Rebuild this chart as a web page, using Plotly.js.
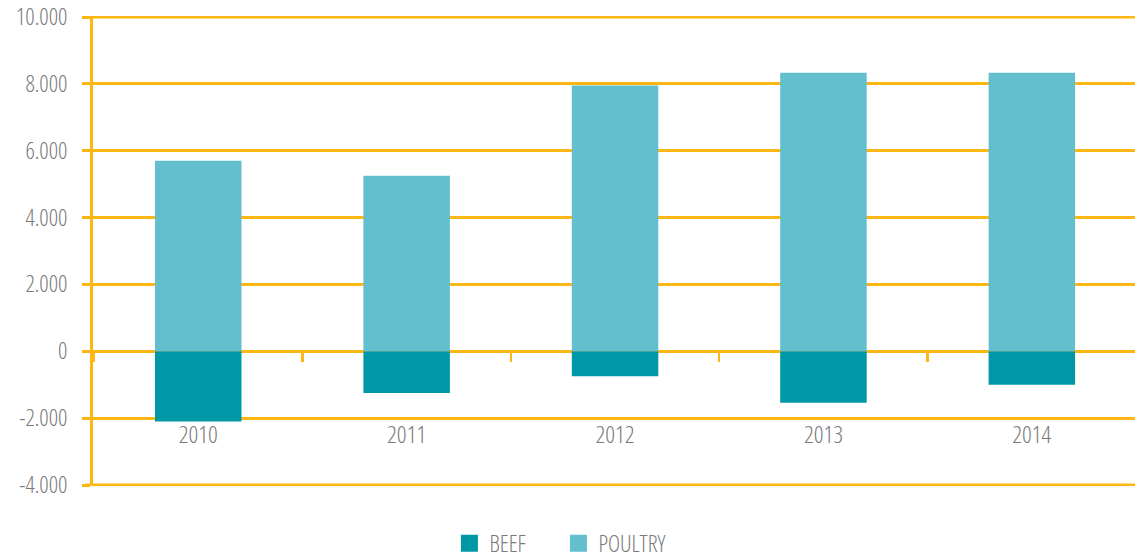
<!DOCTYPE html>
<html>
<head>
<meta charset="utf-8">
<script src="https://cdn.plot.ly/plotly-3.0.1.min.js"></script>
<style>
html,body{margin:0;padding:0;background:#fff;}
#chart{width:1135px;height:560px;}
#chart svg text{font-stretch:semi-condensed !important;}
#chart svg text.legendtext{font-stretch:condensed !important;}
</style>
</head>
<body>
<div id="chart"></div>
<script>
var years = ['2010', '2011', '2012', '2013', '2014'];
var beef = [-2100, -1250, -750, -1540, -1000];
var poultry = [5700, 5250, 7950, 8330, 8330];
var yTickVals = [-4000, -2000, 0, 2000, 4000, 6000, 8000, 10000];
var yTickText = ['-4.000', '-2.000', '0', '2.000', '4.000', '6.000', '8.000', '10.000'];

var beefColor = '#0097A7';
var poultryColor = '#63BECD';
var gridColor = '#FDB714';
var textColor = '#7a7a7a';
var fontFam = '"Open Sans", "Roboto", sans-serif';
function f(sz) { return {family: fontFam, color: textColor, size: sz, weight: 300}; }

var traces = [
  {type: 'bar', name: 'BEEF', x: years, y: beef, marker: {color: beefColor}, showlegend: false},
  {type: 'bar', name: 'POULTRY', x: years, y: poultry, marker: {color: poultryColor}, showlegend: false},
  {type: 'bar', name: 'BEEF', x: [years[0]], y: [null], marker: {color: beefColor, line: {color: beefColor, width: 12}}, showlegend: true},
  {type: 'bar', name: 'POULTRY', x: [years[0]], y: [null], marker: {color: poultryColor, line: {color: poultryColor, width: 12}}, showlegend: true}
];

// outer grid lines (at the ends of the y range) drawn as guide shapes
var edgeGrid = [yTickVals[0], yTickVals[yTickVals.length - 1]].map(function (v) {
  return {type: 'line', xref: 'paper', yref: 'y', x0: -8 / 1042, x1: 1, y0: v, y1: v,
          line: {color: gridColor, width: 3}, layer: 'below'};
});

var layout = {
  width: 1135, height: 560,
  margin: {l: 93, r: 0, t: 16, b: 74, pad: 0},
  paper_bgcolor: '#fff', plot_bgcolor: '#fff',
  barmode: 'relative',
  bargap: 0.585,
  font: f(23),
  xaxis: {
    type: 'category',
    categoryorder: 'array', categoryarray: years,
    range: [-0.505, 4.495],
    anchor: 'free', position: 4030 / 14060,
    showline: false, showgrid: false, zeroline: false,
    ticks: 'outside', tickson: 'boundaries', ticklen: 10, tickwidth: 2.5, tickcolor: gridColor,
    ticklabelstandoff: 67,
    tickfont: f(24)
  },
  yaxis: {
    range: [-4030, 10030],
    tickvals: yTickVals, ticktext: yTickText,
    showgrid: true, gridcolor: gridColor, gridwidth: 3,
    zeroline: true, zerolinecolor: gridColor, zerolinewidth: 3,
    showline: true, linecolor: gridColor, linewidth: 3,
    ticks: 'outside', ticklen: 8, tickwidth: 3, tickcolor: gridColor,
    ticklabelstandoff: 10,
    tickfont: f(23)
  },
  shapes: edgeGrid,
  legend: {
    orientation: 'h',
    xref: 'container', yref: 'container',
    x: 0.492, xanchor: 'center', y: 0.03, yanchor: 'middle',
    font: f(23),
    entrywidth: 64, entrywidthmode: 'pixels',
    itemclick: false, itemdoubleclick: false,
    traceorder: 'normal'
  },
  showlegend: true
};

Plotly.newPlot('chart', traces, layout, {displayModeBar: false, staticPlot: true});
</script>
</body>
</html>
